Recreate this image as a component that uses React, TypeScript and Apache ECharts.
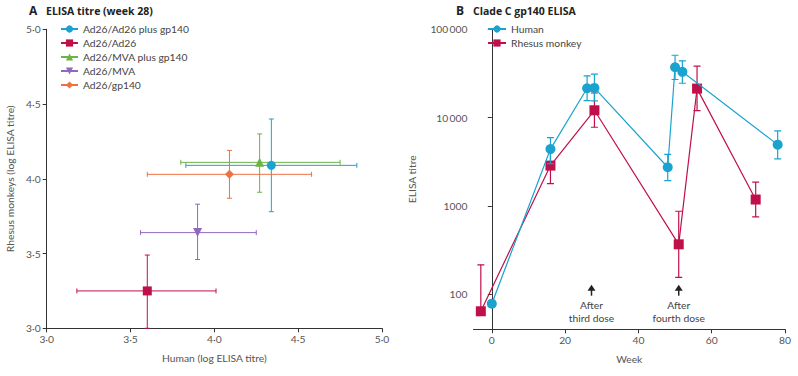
import React, { useEffect, useRef } from 'react';
import * as echarts from 'echarts';

// Panel A data (log ELISA titre at week 28)
const groupsA = ['Ad26/Ad26 plus gp140', 'Ad26/Ad26', 'Ad26/MVA plus gp140', 'Ad26/MVA', 'Ad26/gp140'];
const humanLogA = [4.34, 3.6, 4.27, 3.9, 4.09];
const humanLowA = [3.83, 3.18, 3.8, 3.56, 3.6];
const humanHighA = [4.85, 4.01, 4.75, 4.25, 4.58];
const monkeyLogA = [4.09, 3.25, 4.11, 3.64, 4.03];
const monkeyLowA = [3.78, 3.0, 3.91, 3.46, 3.87];
const monkeyHighA = [4.4, 3.49, 4.3, 3.83, 4.19];
const ticksA = [3.0, 3.5, 4.0, 4.5, 5.0];

// Panel B data (Clade C gp140 ELISA titre by week)
const weeksHuman = [0, 16, 26, 28, 48, 50, 52, 78];
const titreHuman = [78, 4400, 21500, 21700, 2740, 37200, 33000, 4940];
const lowHuman = [null, 3000, 15600, 15500, 1930, 27000, 24500, 3400];
const highHuman = [null, 5930, 29700, 31000, 3840, 50800, 44000, 7070];
const weeksMonkey = [-3, 16, 28, 51, 56, 72];
const titreMonkey = [64, 2860, 12100, 367, 21300, 1180];
const lowMonkey = [null, 1790, 7770, 155, 12000, 750];
const highMonkey = [215, 4570, 19000, 869, 38200, 1860];
const weekTicks = [0, 20, 40, 60, 80];
const titreTicks = [100, 1000, 10000, 100000];
const doseWeeks = [27.2, 51];
const doseArrowTitre = [128, 128];
const doseLabels = ['After\nthird dose', 'After\nfourth dose'];

// Styles
const FONT = 'Lato';
const TFONT = 'Open Sans';
const FS = 10.3;
const colorsA = ['#1aa3cf', '#c0104a', '#6cb446', '#9068be', '#f0703f'];
const symbolsA = ['circle', 'rect', 'triangle', 'triangle', 'diamond'];
const rotateA = [0, 0, 0, 180, 0];
const CYAN = '#1aa3cf';
const RED = '#c0104a';
const AXIS = '#333';
const LABEL = '#555';

function fmtDot(v: number) {
  return v.toFixed(1).replace('.', '\u00b7');
}
function fmtTitre(v: number) {
  const l = Math.log10(v);
  if (Math.abs(l - Math.round(l)) > 1e-6) return '';
  const n = Math.round(v);
  if (n >= 10000) return String(n).replace(/\B(?=(\d{3})+(?!\d))/g, '\u2009');
  return String(n);
}

export default function App() {
  const ref = useRef<HTMLDivElement>(null);
  useEffect(() => {
    document.body.style.margin = '0';
    const chart = echarts.init(ref.current!, null, { renderer: 'svg' });

    const errA = (i: number) => ({
      type: 'custom',
      xAxisIndex: 0,
      yAxisIndex: 0,
      z: 1,
      silent: true,
      data: [[humanLogA[i], monkeyLogA[i], humanLowA[i], humanHighA[i], monkeyLowA[i], monkeyHighA[i]]],
      renderItem: (params: any, api: any) => {
        const x = api.value(0), y = api.value(1);
        const xl = api.coord([api.value(2), y]);
        const xh = api.coord([api.value(3), y]);
        const yl = api.coord([x, api.value(4)]);
        const yh = api.coord([x, api.value(5)]);
        const st = { stroke: colorsA[i], lineWidth: 1 };
        const c = 2.5;
        return {
          type: 'group',
          children: [
            { type: 'line', shape: { x1: xl[0], y1: xl[1], x2: xh[0], y2: xh[1] }, style: st },
            { type: 'line', shape: { x1: yl[0], y1: yl[1], x2: yh[0], y2: yh[1] }, style: st },
            { type: 'line', shape: { x1: xl[0], y1: xl[1] - c, x2: xl[0], y2: xl[1] + c }, style: st },
            { type: 'line', shape: { x1: xh[0], y1: xh[1] - c, x2: xh[0], y2: xh[1] + c }, style: st },
            { type: 'line', shape: { x1: yl[0] - c, y1: yl[1], x2: yl[0] + c, y2: yl[1] }, style: st },
            { type: 'line', shape: { x1: yh[0] - c, y1: yh[1], x2: yh[0] + c, y2: yh[1] }, style: st },
          ],
        };
      },
    });

    const pointA = (i: number) => ({
      type: 'line',
      name: groupsA[i],
      xAxisIndex: 0,
      yAxisIndex: 0,
      z: 3,
      data: [[humanLogA[i], monkeyLogA[i]]],
      symbol: symbolsA[i],
      symbolRotate: rotateA[i],
      symbolSize: 9,
      showSymbol: true,
      itemStyle: { color: colorsA[i] },
      lineStyle: { color: colorsA[i], width: 1 },
    });

    const errB = (weeks: number[], vals: number[], lo: any[], hi: any[], color: string, z: number) => ({
      type: 'custom',
      xAxisIndex: 1,
      yAxisIndex: 1,
      z,
      silent: true,
      clip: true,
      data: weeks.map((w, i) => [w, vals[i], lo[i] ?? vals[i], hi[i] ?? vals[i]]),
      renderItem: (params: any, api: any) => {
        const w = api.value(0), v = api.value(1), l = api.value(2), h = api.value(3);
        const pl = api.coord([w, l]);
        const ph = api.coord([w, h]);
        const st = { stroke: color, lineWidth: 1.2 };
        const c = 3.5;
        const ch: any[] = [{ type: 'line', shape: { x1: pl[0], y1: pl[1], x2: ph[0], y2: ph[1] }, style: st }];
        if (l !== v) ch.push({ type: 'line', shape: { x1: pl[0] - c, y1: pl[1], x2: pl[0] + c, y2: pl[1] }, style: st });
        if (h !== v) ch.push({ type: 'line', shape: { x1: ph[0] - c, y1: ph[1], x2: ph[0] + c, y2: ph[1] }, style: st });
        return { type: 'group', children: ch };
      },
    });

    const axisCommon = {
      axisLine: { show: true, lineStyle: { color: AXIS, width: 1 } },
      axisTick: { show: true, inside: false, length: 4, lineStyle: { color: AXIS } },
      splitLine: { show: false },
      axisLabel: { color: LABEL, fontSize: FS, fontFamily: FONT, margin: 6 },
      nameLocation: 'middle' as const,
      nameTextStyle: { color: LABEL, fontSize: FS, fontFamily: FONT },
    };

    chart.setOption({
      animation: false,
      textStyle: { fontFamily: FONT },
      graphic: [
        { type: 'text', left: 29, top: 4, style: { text: 'A', font: `bold 12px "${TFONT}"`, fill: '#222' } },
        { type: 'text', left: 46, top: 5, style: { text: 'ELISA titre (week 28)', font: `bold 10.5px "${TFONT}"`, fill: '#222' } },
        { type: 'text', left: 456, top: 4, style: { text: 'B', font: `bold 12px "${TFONT}"`, fill: '#222' } },
        { type: 'text', left: 473, top: 5, style: { text: 'Clade C gp140 ELISA', font: `bold 10.5px "${TFONT}"`, fill: '#222' } },
      ],
      legend: [
        {
          orient: 'vertical',
          left: 55,
          top: 19,
          itemWidth: 17,
          itemHeight: 9,
          itemGap: 4,
          textStyle: { color: '#444', fontSize: FS, fontFamily: FONT },
          data: groupsA,
        },
        {
          orient: 'vertical',
          left: 482,
          top: 19,
          itemWidth: 18,
          itemHeight: 9,
          itemGap: 4,
          textStyle: { color: '#444', fontSize: FS, fontFamily: FONT },
          data: ['Human', 'Rhesus monkey'],
        },
      ],
      grid: [
        { left: 46.7, top: 29.3, width: 335.3, height: 299, containLabel: false },
        { left: 473.5, top: 29.3, width: 311.5, height: 300, containLabel: false },
      ],
      xAxis: [
        {
          ...axisCommon,
          gridIndex: 0,
          type: 'value',
          min: 3,
          max: 5,
          interval: 0.5,
          name: 'Human (log ELISA titre)',
          nameGap: 25,
          axisLabel: { ...axisCommon.axisLabel, formatter: (v: number) => (ticksA.includes(v) ? fmtDot(v) : '') },
        },
        {
          ...axisCommon,
          gridIndex: 1,
          type: 'value',
          min: -5,
          max: 80,
          name: 'Week',
          nameGap: 25,
          axisTick: { ...axisCommon.axisTick, customValues: weekTicks },
          axisLabel: { ...axisCommon.axisLabel, customValues: weekTicks },
        },
      ],
      yAxis: [
        {
          ...axisCommon,
          gridIndex: 0,
          type: 'value',
          min: 3,
          max: 5,
          interval: 0.5,
          name: 'Rhesus monkeys (log ELISA titre)',
          nameGap: 32,
          axisLabel: { ...axisCommon.axisLabel, formatter: (v: number) => (ticksA.includes(v) ? fmtDot(v) : '') },
        },
        {
          ...axisCommon,
          gridIndex: 1,
          type: 'log',
          logBase: 10,
          min: 40,
          max: 100000,
          name: 'ELISA titre',
          nameGap: 57,
          axisTick: { ...axisCommon.axisTick, customValues: titreTicks },
          axisLabel: { ...axisCommon.axisLabel, customValues: titreTicks, formatter: (v: number) => fmtTitre(v) },
        },
      ],
      series: [
        ...groupsA.map((_, i) => errA(i)),
        ...groupsA.map((_, i) => pointA(i)),
        errB(weeksMonkey, titreMonkey, lowMonkey, highMonkey, RED, 1),
        {
          type: 'line',
          name: 'Rhesus monkey',
          xAxisIndex: 1,
          yAxisIndex: 1,
          z: 2,
          data: weeksMonkey.map((w, i) => [w, titreMonkey[i]]),
          symbol: 'rect',
          symbolSize: 10,
          showSymbol: true,
          itemStyle: { color: RED },
          lineStyle: { color: RED, width: 1.2 },
        },
        errB(weeksHuman, titreHuman, lowHuman, highHuman, CYAN, 3),
        {
          type: 'line',
          name: 'Human',
          xAxisIndex: 1,
          yAxisIndex: 1,
          z: 4,
          data: weeksHuman.map((w, i) => [w, titreHuman[i]]),
          symbol: 'circle',
          symbolSize: 10,
          showSymbol: true,
          itemStyle: { color: CYAN },
          lineStyle: { color: CYAN, width: 1.2 },
        },
        {
          type: 'custom',
          xAxisIndex: 1,
          yAxisIndex: 1,
          z: 5,
          silent: true,
          data: doseWeeks.map((w, i) => [w, doseArrowTitre[i], i]),
          renderItem: (params: any, api: any) => {
            const p = api.coord([api.value(0), api.value(1)]);
            const label = doseLabels[api.value(2)];
            return {
              type: 'group',
              children: [
                { type: 'polygon', shape: { points: [[p[0], p[1]], [p[0] - 4, p[1] + 6], [p[0] + 4, p[1] + 6]] }, style: { fill: '#222' } },
                { type: 'line', shape: { x1: p[0], y1: p[1] + 5, x2: p[0], y2: p[1] + 11 }, style: { stroke: '#222', lineWidth: 1.5 } },
                {
                  type: 'text',
                  x: p[0],
                  y: p[1] + 13,
                  style: { text: label, align: 'center', verticalAlign: 'top', fill: '#444', fontSize: FS, fontFamily: FONT, lineHeight: 13.7 },
                },
              ],
            };
          },
        },
      ],
    });
    return () => chart.dispose();
  }, []);
  return <div ref={ref} style={{ width: 798, height: 376 }} />;
}
